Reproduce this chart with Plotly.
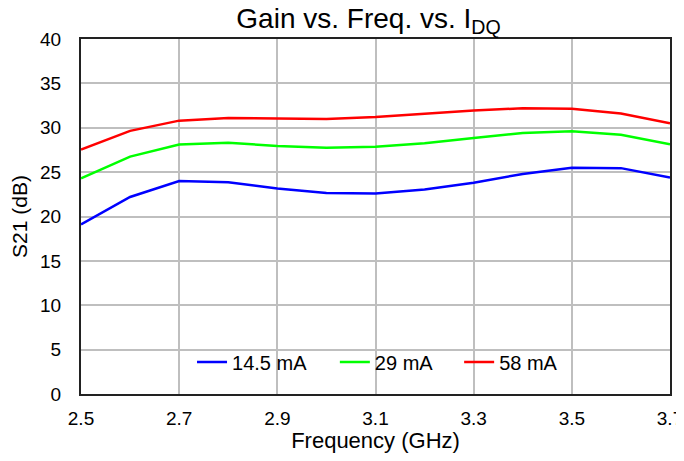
import plotly.graph_objects as go

freq = [2.5, 2.6, 2.7, 2.8, 2.9, 3.0, 3.1, 3.2, 3.3, 3.4, 3.5, 3.6, 3.7]
s21_14p5 = [19.1, 22.2, 24.0, 23.85, 23.15, 22.65, 22.6, 23.05, 23.8, 24.8, 25.5, 25.45, 24.4]
s21_29 = [24.3, 26.75, 28.1, 28.3, 27.95, 27.75, 27.85, 28.25, 28.85, 29.4, 29.6, 29.2, 28.15]
s21_58 = [27.55, 29.65, 30.8, 31.1, 31.05, 31.0, 31.2, 31.55, 31.95, 32.2, 32.15, 31.6, 30.5]
series_names = ["14.5 mA", "29 mA", "58 mA"]
series_colors = ["#0000ff", "#00ff00", "#ff0000"]
x_ticks = [2.5, 2.7, 2.9, 3.1, 3.3, 3.5, 3.7]
y_ticks = [0, 5, 10, 15, 20, 25, 30, 35, 40]

legend_ids = ["legend", "legend2", "legend3"]
legend_x = [0.1885, 0.431, 0.642]
legend_band = (0.7, 4.93)  # white band behind the legend, in S21 units

fig = go.Figure()
for name, vals, col, lg in zip(series_names, [s21_14p5, s21_29, s21_58], series_colors, legend_ids):
    fig.add_trace(go.Scatter(x=freq, y=vals, mode="lines", name=name, legend=lg,
                             line=dict(color=col, width=2.5)))

fig.add_shape(type="rect", xref="paper", x0=0, x1=1, yref="y",
              y0=legend_band[0], y1=legend_band[1],
              fillcolor="white", line=dict(width=0), layer="between")

font_family = "Liberation Sans, Arial, sans-serif"
# page body has an 8px margin; compensate so the plot area sits at 81..670 x 39..394
W, H = 676, 445
L, T = 73, 31
R = W - L - 589
B = H - T - 355
leg_common = dict(orientation="h", xanchor="left", y=0.035, yanchor="bottom",
                  bgcolor="rgba(0,0,0,0)", font=dict(size=20), itemwidth=30)
fig.update_layout(
    width=W, height=H,
    margin=dict(l=L, r=R, t=T, b=B, autoexpand=False),
    paper_bgcolor="white", plot_bgcolor="white",
    font=dict(family=font_family, color="black", size=19),
    title=dict(text="Gain vs. Freq. vs. I<sub>DQ</sub>", x=(368.5 - 8) / W, xanchor="center",
               y=1 - 10.5 / H, yanchor="middle", font=dict(size=28)),
    showlegend=True,
    legend=dict(x=legend_x[0], **leg_common),
    legend2=dict(x=legend_x[1], **leg_common),
    legend3=dict(x=legend_x[2], **leg_common),
)
fig.update_xaxes(range=[2.5, 3.7], tickvals=x_ticks, ticktext=[f"{v:.1f}" for v in x_ticks],
                 showgrid=True, gridcolor="#bfbfbf", gridwidth=1.5,
                 showline=True, linecolor="#222", linewidth=2, mirror=True,
                 ticks="", zeroline=False, automargin=False, ticklabelstandoff=6,
                 ticklabeloverflow="allow",
                 title=dict(text="Frequency (GHz)", font=dict(size=22), standoff=0),
                 tickfont=dict(size=19))
fig.update_yaxes(range=[0, 40], tickvals=y_ticks,
                 showgrid=True, gridcolor="#bfbfbf", gridwidth=1.5,
                 showline=True, linecolor="#222", linewidth=2, mirror=True,
                 ticks="", zeroline=False, automargin=False, ticklabelstandoff=14,
                 title=dict(text="S21 (dB)", font=dict(size=21), standoff=22),
                 tickfont=dict(size=19))

fig.write_html("out.html")
